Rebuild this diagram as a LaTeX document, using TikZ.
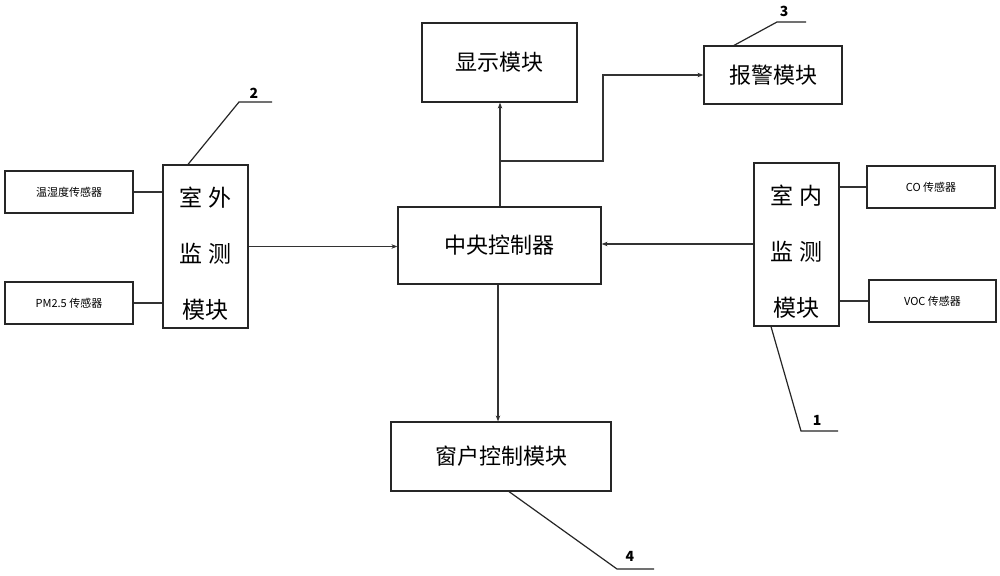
\documentclass[tikz,border=0pt]{standalone}
\usepackage{fontspec}
\newfontfamily\cjk{Noto Sans CJK SC}
\usetikzlibrary{arrows.meta}
\begin{document}
\begin{tikzpicture}[x=1pt,y=-1pt,
  box/.style={draw=black!85,line width=1.2pt,rectangle,inner sep=0pt,fill=white},
  sensor/.style={box,minimum width=128pt,minimum height=42pt,font=\cjk\fontsize{11}{13}\selectfont},
  bigtext/.style={font=\cjk\fontsize{22}{26}\selectfont},
  vmod/.style={box,minimum width=85pt,minimum height=163pt},
  vtext/.style={align=center,inner sep=0pt,shift={(0,7)},font=\cjk\fontsize{23}{56}\selectfont},
  conn/.style={draw=black!80,line width=1.2pt},
  arr/.style={conn,-{Stealth[length=6pt,width=4.5pt]}},
  lead/.style={draw=black!85,line width=1.2pt},
  num/.style={font=\cjk\bfseries\fontsize{14}{16}\selectfont,inner sep=0pt}
]
\useasboundingbox (0,0) rectangle (1000,575);
\fill[white] (0,0) rectangle (1000,575);

% nodes
\node[sensor] (th) at (69,192) {温湿度传感器};
\node[sensor] (pm) at (69,303) {PM2.5 传感器};
\node[vmod,label={[vtext]center:室\hspace{6pt}外\\监\hspace{6pt}测\\模块}] (out) at (205.5,246.5) {};
\node[box,bigtext,minimum width=203pt,minimum height=77pt] (ctrl) at (499.5,245.5) {中央控制器};
\node[box,bigtext,minimum width=155pt,minimum height=79pt] (disp) at (499.5,62.5) {显示模块};
\node[box,bigtext,minimum width=138pt,minimum height=58pt] (alarm) at (773,75) {报警模块};
\node[vmod,label={[vtext]center:室\hspace{6pt}内\\监\hspace{6pt}测\\模块}] (in) at (796.5,244.5) {};
\node[sensor] (co) at (931,187) {CO 传感器};
\node[sensor,minimum width=127pt] (voc) at (932.5,301) {VOC 传感器};
\node[box,bigtext,minimum width=220pt,minimum height=69pt] (win) at (501,456.5) {窗户控制模块};

% connectors
\draw[conn] (th.east) -- (th.east -| out.west);
\draw[conn] (pm.east) -- (pm.east -| out.west);
\draw[arr] (out.east) -- (out.east -| ctrl.west);
\draw[arr] (in.west |- 0,244) -- (ctrl.east |- 0,244);
\draw[conn] (in.east |- co.west) -- (co.west);
\draw[conn] (in.east |- voc.west) -- (voc.west);
\coordinate (br) at (500,161);
\coordinate (bu) at (603,161);
\draw[arr] (ctrl.north -| br) -- (disp.south -| br);
\draw[arr] (br) -- (bu) -- (bu |- alarm.west) -- (alarm.west);
\draw[arr] (ctrl.south -| 498,0) -- (win.north -| 498,0);

% leaders
\coordinate (l2a) at (239,102); \coordinate (l2b) at (272,102);
\draw[lead] (out.north -| 188,0) -- (l2a) -- (l2b);
\node[num] (n2) at (254,93) {2};
\coordinate (l3a) at (777,22); \coordinate (l3b) at (806,22);
\draw[lead] (alarm.north -| 734,0) -- (l3a) -- (l3b);
\node[num] (n3) at (784,11) {3};
\coordinate (l1a) at (801,431); \coordinate (l1b) at (838,431);
\draw[lead] (in.south -| 771,0) -- (l1a) -- (l1b);
\node[num] (n1) at (817,420) {1};
\coordinate (l4a) at (617,569); \coordinate (l4b) at (654,569);
\draw[lead] (win.south -| 509,0) -- (l4a) -- (l4b);
\node[num] (n4) at (630,556) {4};
\end{tikzpicture}
\end{document}
